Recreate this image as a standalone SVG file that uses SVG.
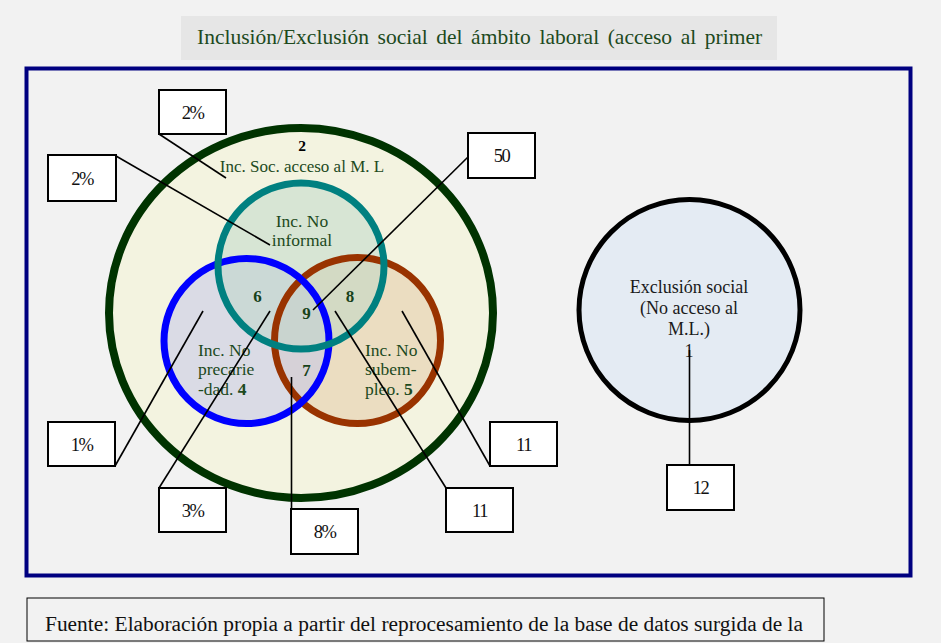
<svg xmlns="http://www.w3.org/2000/svg" width="941" height="643" viewBox="0 0 941 643">
<style>
.serif{font-family:"Liberation Serif","Times New Roman",serif}
.box{fill:#ffffff;stroke:#000000;stroke-width:2}
.lbl{font-family:"Liberation Serif","Times New Roman",serif;font-size:18.5px;fill:#111;text-anchor:middle;letter-spacing:-1.5px}
.green{fill:#1d4a1d}
.num{font-weight:bold;fill:#17421a;font-size:17px;text-anchor:middle}
.conn{stroke:#000;stroke-width:1.6;fill:none}
</style>
<rect x="0" y="0" width="941" height="643" fill="#f2f2f2"/>
<g id="title">
<rect x="181" y="16" width="596" height="44" fill="#e6e6e6"/>
<text x="197" y="44" class="serif" font-size="21.5" word-spacing="3.2" fill="#1d4a1d">Inclusión/Exclusión social del ámbito laboral (acceso al primer</text>
</g>
<rect id="frame" x="26.5" y="68.5" width="884" height="507" fill="none" stroke="#000080" stroke-width="4"/>
<g id="inclusion">
<ellipse cx="301" cy="313" rx="192" ry="185" fill="#f3f3e0" stroke="#003300" stroke-width="8"/>
<text x="302" y="151" class="serif" font-size="15.5" font-weight="bold" text-anchor="middle" fill="#000">2</text>
<text x="302" y="172" class="serif green" font-size="17" text-anchor="middle">Inc. Soc. acceso al M. L</text>
</g>
<g id="sets">
<circle cx="357.5" cy="340.5" r="83" fill="#e3cba8" fill-opacity="0.55"/>
<circle cx="246.5" cy="341" r="82.5" fill="#c4c6ea" fill-opacity="0.55"/>
<circle cx="301" cy="266" r="83" fill="#bcd8c8" fill-opacity="0.5"/>
<circle cx="357.5" cy="340.5" r="83" fill="none" stroke="#993300" stroke-width="7"/>
<circle cx="246.5" cy="341" r="82.5" fill="none" stroke="#0000ff" stroke-width="7"/>
<circle cx="301" cy="266" r="83" fill="none" stroke="#008080" stroke-width="7"/>
</g>
<g id="informal">
<text x="302" y="227" class="serif green" font-size="17.5" text-anchor="middle">Inc. No</text>
<text x="302" y="246" class="serif green" font-size="17.5" text-anchor="middle">informal</text>
</g>
<g id="precariedad">
<text x="198" y="356" class="serif green" font-size="17.5">Inc. No</text>
<text x="198" y="375" class="serif green" font-size="17.5">precarie</text>
<text x="198" y="395" class="serif green" font-size="17.5">-dad. <tspan font-weight="bold">4</tspan></text>
</g>
<g id="subempleo">
<text x="365" y="356" class="serif green" font-size="17.5">Inc. No</text>
<text x="365" y="375" class="serif green" font-size="17.5">subem-</text>
<text x="365" y="395" class="serif green" font-size="17.5">pleo. <tspan font-weight="bold">5</tspan></text>
</g>
<g id="intersections" class="serif">
<text x="257.5" y="302" class="num">6</text>
<text x="350" y="302" class="num">8</text>
<text x="306.5" y="319" class="num">9</text>
<text x="306.5" y="376" class="num">7</text>
</g>
<g id="exclusion">
<circle cx="689.5" cy="310" r="110.5" fill="#e4ebf3" stroke="#000" stroke-width="5"/>
<text x="689" y="293" class="serif" font-size="18" text-anchor="middle" fill="#1a1a1a">Exclusión social</text>
<text x="689" y="314" class="serif" font-size="18" text-anchor="middle" fill="#1a1a1a">(No acceso al</text>
<text x="689" y="335" class="serif" font-size="18" text-anchor="middle" fill="#1a1a1a">M.L.)</text>
<text x="689" y="357" class="serif" font-size="18" text-anchor="middle" fill="#1a1a1a">1</text>
</g>
<g id="connectors">
<line class="conn" x1="159" y1="134" x2="226" y2="178"/>
<line class="conn" x1="116" y1="156" x2="270" y2="245"/>
<line class="conn" x1="468" y1="157" x2="313" y2="310"/>
<line class="conn" x1="115" y1="466" x2="203" y2="311"/>
<line class="conn" x1="159" y1="488" x2="270" y2="311"/>
<line class="conn" x1="291.5" y1="509" x2="291.5" y2="377"/>
<line class="conn" x1="446" y1="488" x2="335" y2="311"/>
<line class="conn" x1="490" y1="466" x2="402" y2="311"/>
<line class="conn" x1="689.5" y1="350" x2="689.5" y2="465"/>
</g>
<g id="c-2a"><rect class="box" x="159" y="90" width="67" height="44"/><text class="lbl" x="192.5" y="119">2%</text></g>
<g id="c-2b"><rect class="box" x="48" y="155" width="68" height="46"/><text class="lbl" x="82" y="185">2%</text></g>
<g id="c-50"><rect class="box" x="468" y="133" width="67" height="45"/><text class="lbl" x="501.5" y="162">50</text></g>
<g id="c-1"><rect class="box" x="48" y="422" width="67" height="44"/><text class="lbl" x="81.5" y="451">1%</text></g>
<g id="c-3"><rect class="box" x="159" y="488" width="67" height="44"/><text class="lbl" x="192.5" y="517">3%</text></g>
<g id="c-8"><rect class="box" x="291" y="509" width="67" height="45"/><text class="lbl" x="324.5" y="538">8%</text></g>
<g id="c-11a"><rect class="box" x="446" y="488" width="67" height="44"/><text class="lbl" x="479.5" y="517">11</text></g>
<g id="c-11b"><rect class="box" x="490" y="422" width="67" height="44"/><text class="lbl" x="523.5" y="451">11</text></g>
<g id="c-12"><rect class="box" x="667" y="465" width="67" height="45"/><text class="lbl" x="700.5" y="494">12</text></g>
<g id="footer">
<rect x="27" y="598" width="797" height="43" fill="#f2f2f2" stroke="#000" stroke-width="1"/>
<text x="45" y="631" class="serif" font-size="20.5" textLength="758" lengthAdjust="spacingAndGlyphs" fill="#111">Fuente: Elaboración propia a partir del reprocesamiento de la base de datos surgida de la</text>
</g>
</svg>
